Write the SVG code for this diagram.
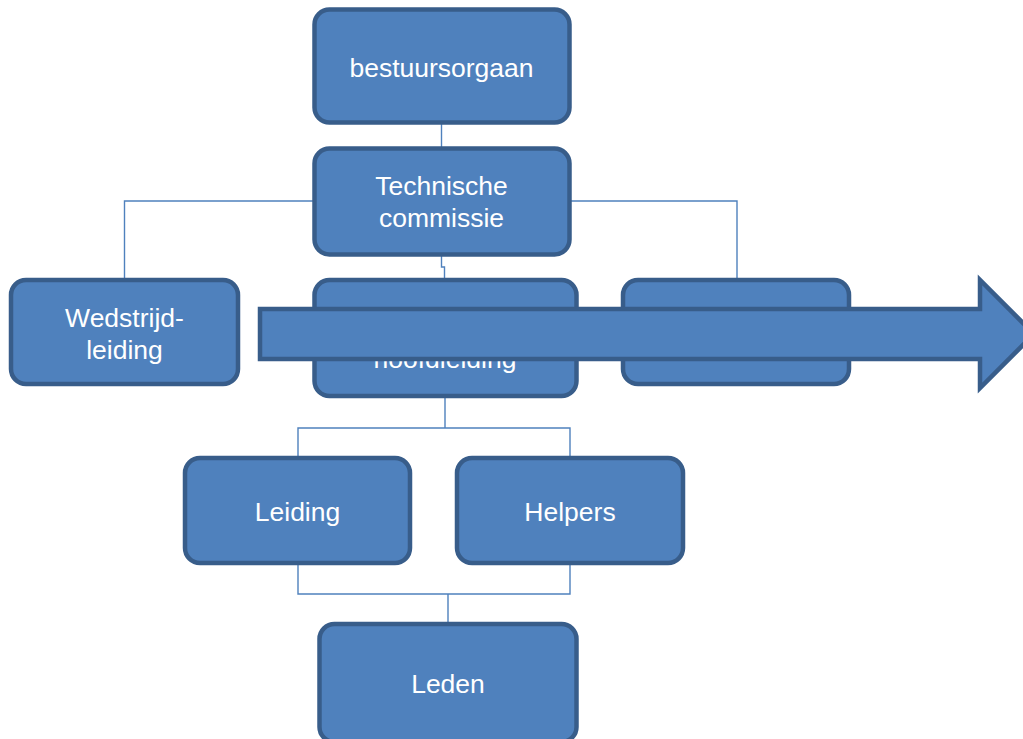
<svg xmlns="http://www.w3.org/2000/svg" width="1023" height="739" viewBox="0 0 1023 739">
  <style>
    .box { fill: #4f81bd; stroke: #385d8a; stroke-width: 4.5; }
    .lbl { fill: #ffffff; font-family: "Liberation Sans", Arial, sans-serif; font-size: 26.5px; text-anchor: middle; }
    .conn { fill: none; stroke: #4f81bd; stroke-width: 1.4; }
  </style>
  <rect width="1023" height="739" fill="#ffffff"/>

  <!-- connectors -->
  <g id="connectors">
    <path class="conn" d="M441.5 123 V150"/>
    <path class="conn" d="M314 201 H124.5 V280"/>
    <path class="conn" d="M569 201 H737 V280"/>
    <path class="conn" d="M441.5 254 V267 H444.5 V280"/>
    <path class="conn" d="M445 396 V428 H570 V458 M445 428 H298 V458"/>
    <path class="conn" d="M298 563 V594 H570 V563 M448 594 V624"/>
  </g>

  <g id="bestuursorgaan">
    <rect class="box" x="314.5" y="9.5" width="255" height="113" rx="15"/>
    <text class="lbl" x="441.5" y="77">bestuursorgaan</text>
  </g>

  <g id="technische-commissie">
    <rect class="box" x="314.5" y="148.5" width="255" height="106" rx="15"/>
    <text class="lbl" x="441.5" y="195">Technische</text>
    <text class="lbl" x="441.5" y="227">commissie</text>
  </g>

  <g id="wedstrijdleiding">
    <rect class="box" x="11" y="280" width="227" height="104" rx="15"/>
    <text class="lbl" x="124.5" y="327">Wedstrijd-</text>
    <text class="lbl" x="124.5" y="359">leiding</text>
  </g>

  <g id="hoofdleiding">
    <rect class="box" x="314.5" y="280" width="262" height="116" rx="15"/>
    <text class="lbl" x="445" y="368">hoofdleiding</text>
  </g>

  <g id="rechts">
    <rect class="box" x="623" y="280" width="226" height="104" rx="15"/>
  </g>

  <g id="leiding">
    <rect class="box" x="185" y="458" width="225" height="105" rx="15"/>
    <text class="lbl" x="297.5" y="521">Leiding</text>
  </g>

  <g id="helpers">
    <rect class="box" x="457" y="458" width="226" height="105" rx="15"/>
    <text class="lbl" x="570" y="521">Helpers</text>
  </g>

  <g id="leden">
    <rect class="box" x="319.5" y="624" width="257" height="118" rx="15"/>
    <text class="lbl" x="448" y="693">Leden</text>
  </g>

  <!-- block arrow across the middle row -->
  <g id="pijl">
    <path class="box" d="M260 309 H980 V280 L1034 334 L980 388 V359 H260 Z"/>
  </g>
</svg>
